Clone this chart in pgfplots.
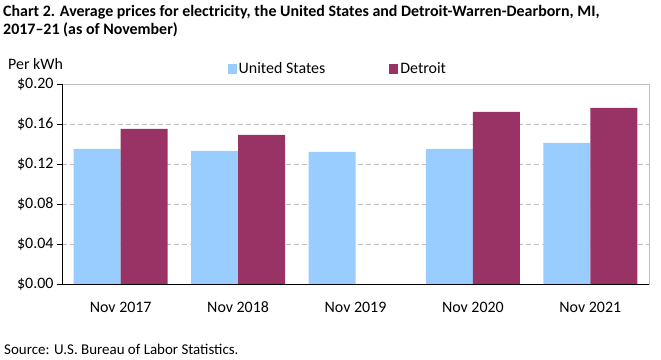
\documentclass[border=0pt]{standalone}
\usepackage{pgfplots}
\pgfplotsset{compat=1.18}
\usepackage{fontspec}
\setmainfont{Carlito}
\definecolor{usblue}{HTML}{99CCFF}
\definecolor{detr}{HTML}{993366}
\definecolor{gridgray}{HTML}{BFBFBF}
\begin{document}
\begin{tikzpicture}
\path[use as bounding box] (0,0) rectangle (661bp,360bp);
\node[anchor=base west,font=\bfseries\fontsize{16}{19}\selectfont,inner sep=0] at (3bp,343bp) {Chart 2. Average prices for electricity, the United States and Detroit-Warren-Dearborn, MI,};
\node[anchor=base west,font=\bfseries\fontsize{16}{19}\selectfont,inner sep=0] at (3bp,325bp) {2017--21 (as of November)};
\node[anchor=base west,font=\fontsize{16}{19}\selectfont,inner sep=0] at (8bp,290bp) {Per kWh};
\node[anchor=base west,font=\fontsize{15}{18}\selectfont,inner sep=0] at (4bp,6bp) {Source: U.S. Bureau of Labor Statistics.};
\begin{axis}[
  at={(62bp,76bp)}, anchor=south west,
  scale only axis, width=587bp, height=200bp,
  ybar=0pt, bar width=47bp,
  xmin=-0.5, xmax=4.5, ymin=0, ymax=0.2,
  xtick=data, xticklabels={Nov 2017,Nov 2018,Nov 2019,Nov 2020,Nov 2021},
  ytick={0,0.04,0.08,0.12,0.16,0.2},
  ytick pos=left,
  yticklabel={\$\pgfmathprintnumber[fixed,fixed zerofill,precision=2]{\tick}},
  /pgf/number format/assume math mode=true,
  ticklabel style={font=\fontsize{16}{19}\selectfont},
  xticklabel style={text height=11bp, text depth=3bp, yshift=-9bp},
  scaled y ticks=false,
  axis line style={gridgray, line width=0.8pt},
  tick align=outside, major tick length=5bp,
  ytick style={black, line width=0.8pt},
  xtick style={draw=none},
  ymajorgrids, major grid style={gridgray, dashed, dash pattern=on 5bp off 3bp, line width=0.7pt},
  legend style={at={(0.470,1.075)}, anchor=center, draw=none, fill=none,
    font=\fontsize{16}{19}\selectfont, legend columns=2,
    /tikz/every even column/.append style={column sep=62bp}},
  legend image code/.code={\fill[#1] (0bp,-4.5bp) rectangle (9bp,4.5bp);},
  clip=false,
]
\addplot[fill=usblue, draw=none] coordinates {(0,0.135) (1,0.133) (2,0.132) (3,0.135) (4,0.141)};
\addplot[fill=detr, draw=none] coordinates {(0,0.155) (1,0.149) (3,0.172) (4,0.176)};
\legend{United States, Detroit}
\draw[gridgray, line width=0.8pt] (rel axis cs:0,1) -- (rel axis cs:1,1) -- (rel axis cs:1,0);
\draw[black, line width=0.9pt] (rel axis cs:0,1) -- (rel axis cs:0,0) -- (rel axis cs:1,0);
\end{axis}
\end{tikzpicture}
\end{document}
